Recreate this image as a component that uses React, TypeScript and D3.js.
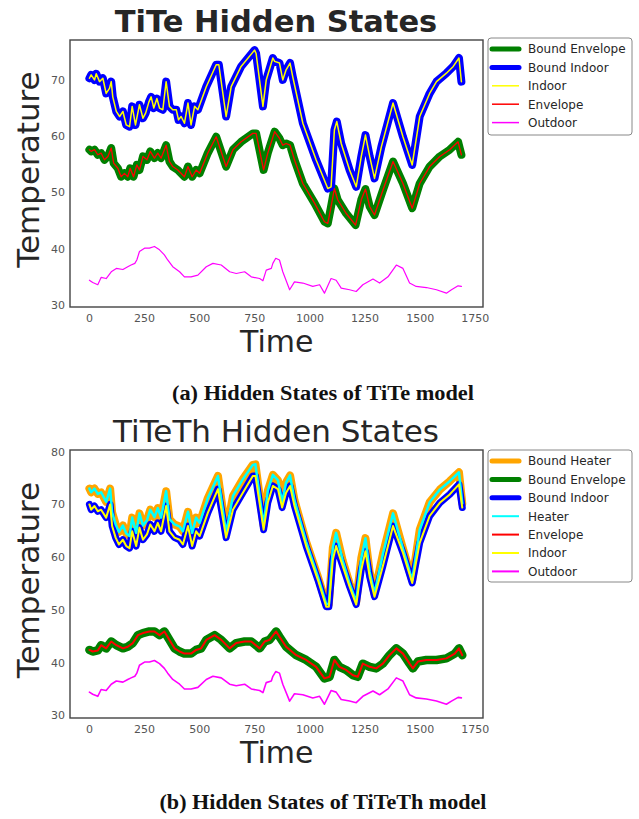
import * as d3 from 'd3';

type Pt = [number, number];

// time ticks shared by both panels
const timeTicks = [0, 250, 500, 750, 1000, 1250, 1500, 1750];
const tempTicksA = [30, 40, 50, 60, 70];
const tempTicksB = [30, 40, 50, 60, 70, 80];

// outdoor temperature (same in both models)
const outdoor: Pt[] = [
  [0, 34.4], [15, 34.0], [38, 33.6], [53, 34.9], [76, 34.7], [99, 35.9], [122, 36.5], [152, 36.3],
  [174, 36.8], [189, 37.1], [206, 37.4], [215, 38.0], [227, 39.5], [250, 40.1], [272, 40.1], [295, 40.4],
  [318, 39.8], [340, 38.9], [355, 38.0], [378, 36.8], [409, 35.9], [431, 35.0], [461, 35.0], [492, 35.3],
  [530, 36.8], [560, 37.4], [598, 37.1], [636, 35.9], [666, 35.6], [704, 35.9], [734, 35.0], [772, 34.7],
  [787, 34.3], [802, 36.2], [825, 36.5], [832, 37.4], [845, 38.3], [862, 38.0], [877, 35.9], [908, 32.7],
  [930, 34.1], [968, 33.9], [1013, 33.3], [1044, 33.6], [1066, 32.1], [1096, 34.7], [1119, 34.4], [1142, 33.0],
  [1180, 32.7], [1210, 32.4], [1240, 33.6], [1286, 34.6], [1316, 33.9], [1354, 35.0], [1392, 37.1], [1422, 36.5],
  [1452, 33.9], [1482, 33.3], [1528, 33.1], [1574, 32.7], [1619, 32.1], [1642, 32.7], [1672, 33.4], [1687, 33.3],
];

// TiTe model
const indoorA: Pt[] = [
  [0, 70.3], [8, 70.9], [23, 70.0], [31, 71.1], [46, 69.7], [61, 70.3], [76, 67.6], [91, 68.5],
  [99, 69.7], [106, 67.0], [122, 64.4], [137, 63.5], [152, 64.4], [167, 62.0], [182, 61.7], [194, 65.3],
  [209, 62.0], [227, 65.6], [243, 63.2], [255, 64.1], [270, 66.1], [280, 67.0], [292, 65.0], [306, 66.7],
  [318, 65.0], [333, 64.7], [348, 69.7], [363, 65.3], [378, 64.7], [394, 64.7], [404, 62.9], [416, 63.5],
  [431, 62.3], [447, 65.9], [461, 62.0], [477, 65.3], [492, 64.7], [530, 68.8], [575, 72.7], [587, 72.7],
  [620, 63.5], [643, 68.8], [688, 72.4], [749, 75.3], [756, 74.7], [787, 65.3], [802, 70.0], [832, 73.9],
  [840, 73.3], [862, 73.0], [877, 70.0], [892, 71.8], [910, 73.0], [922, 70.6], [968, 62.3], [1028, 55.8],
  [1081, 50.7], [1096, 51.0], [1111, 61.1], [1122, 62.6], [1142, 58.7], [1180, 54.0], [1210, 51.0], [1233, 56.4],
  [1252, 60.2], [1271, 56.4], [1293, 52.5], [1324, 58.1], [1377, 65.9], [1422, 59.9], [1464, 54.9], [1498, 63.5],
  [1543, 67.6], [1574, 69.7], [1619, 71.2], [1650, 72.4], [1676, 73.9], [1687, 69.7],
];

const envelopeA: Pt[] = [
  [0, 57.6], [8, 57.3], [23, 57.6], [38, 56.7], [53, 57.0], [68, 55.8], [84, 56.4], [99, 57.9],
  [110, 55.2], [129, 54.3], [144, 52.8], [159, 53.4], [174, 52.8], [185, 54.3], [200, 52.8], [215, 54.9],
  [227, 54.0], [243, 56.4], [261, 55.8], [276, 57.3], [295, 56.1], [310, 57.0], [325, 56.1], [348, 58.4],
  [363, 55.5], [378, 54.6], [401, 54.0], [431, 52.8], [447, 54.6], [466, 52.8], [484, 54.0], [500, 53.4],
  [537, 57.0], [575, 59.9], [620, 54.6], [651, 57.6], [688, 59.0], [741, 60.5], [756, 60.5], [790, 54.0],
  [809, 57.0], [840, 60.8], [862, 59.6], [877, 58.4], [892, 58.7], [910, 58.4], [930, 55.8], [968, 51.6],
  [1021, 48.1], [1066, 44.8], [1081, 44.5], [1096, 47.5], [1111, 50.7], [1126, 48.7], [1164, 46.3], [1207, 44.2],
  [1233, 48.7], [1252, 50.6], [1271, 47.5], [1293, 46.0], [1331, 50.4], [1377, 55.5], [1422, 51.6], [1464, 47.2],
  [1498, 51.6], [1543, 54.6], [1589, 56.4], [1634, 57.6], [1672, 59.0], [1687, 56.7],
];

// TiTeTh model
const indoorB: Pt[] = [
  [0, 70.0], [8, 69.0], [23, 69.7], [38, 68.7], [53, 69.0], [76, 67.5], [94, 70.0], [103, 65.9],
  [119, 63.7], [134, 62.4], [152, 63.3], [167, 62.1], [182, 61.7], [194, 64.9], [212, 62.1], [227, 65.6],
  [243, 63.3], [261, 64.3], [276, 66.2], [295, 64.9], [310, 66.5], [325, 64.9], [348, 69.7], [363, 64.9],
  [386, 63.7], [409, 63.3], [424, 62.4], [447, 65.9], [466, 62.1], [484, 64.9], [500, 64.0], [537, 68.4],
  [583, 72.9], [620, 63.7], [651, 69.0], [696, 72.2], [741, 75.4], [753, 75.4], [790, 65.2], [809, 70.3],
  [832, 73.5], [855, 72.9], [874, 69.4], [892, 72.2], [910, 73.5], [930, 69.7], [983, 62.1], [1036, 55.7],
  [1074, 50.6], [1086, 50.6], [1104, 59.5], [1119, 62.1], [1149, 58.3], [1180, 54.4], [1210, 51.0], [1233, 57.6],
  [1252, 61.1], [1271, 56.3], [1293, 52.5], [1331, 58.3], [1377, 65.9], [1422, 60.8], [1464, 55.1], [1498, 62.7],
  [1543, 67.8], [1589, 70.3], [1634, 71.9], [1676, 73.8], [1691, 69.4],
];

const heaterB: Pt[] = [
  [0, 73.0], [8, 72.3], [23, 73.0], [38, 72.0], [53, 72.3], [76, 70.5], [94, 73.0], [103, 68.5],
  [119, 66.2], [134, 64.8], [152, 66.0], [167, 64.5], [182, 64.0], [194, 67.5], [212, 64.6], [227, 68.3],
  [243, 66.0], [261, 67.0], [276, 69.0], [295, 67.6], [310, 69.3], [325, 67.5], [348, 72.5], [363, 67.2],
  [386, 66.2], [409, 65.8], [424, 64.9], [447, 68.6], [466, 64.6], [484, 67.5], [500, 66.5], [537, 71.2],
  [583, 75.4], [620, 64.6], [651, 71.6], [696, 74.8], [741, 77.5], [753, 77.6], [790, 66.0], [809, 72.6],
  [832, 75.6], [855, 74.6], [874, 70.4], [892, 74.2], [910, 75.5], [930, 70.8], [983, 62.9], [1036, 56.3],
  [1074, 51.1], [1086, 51.1], [1104, 61.8], [1119, 64.6], [1149, 59.3], [1180, 55.0], [1210, 51.5], [1233, 59.8],
  [1252, 63.6], [1271, 57.2], [1293, 53.1], [1331, 60.6], [1377, 68.3], [1422, 61.6], [1464, 55.6], [1498, 65.2],
  [1543, 70.4], [1589, 72.8], [1634, 74.4], [1676, 76.1], [1691, 70.2],
];

const envelopeB: Pt[] = [
  [0, 42.4], [15, 42.1], [38, 42.3], [53, 43.3], [76, 42.7], [99, 44.0], [122, 43.3], [152, 42.7],
  [174, 43.0], [197, 43.7], [220, 45.2], [243, 45.6], [272, 45.9], [295, 45.9], [318, 45.2], [340, 45.9],
  [363, 44.3], [386, 42.7], [409, 42.1], [431, 41.7], [461, 41.7], [484, 42.4], [507, 42.7], [530, 44.3],
  [568, 45.2], [598, 44.3], [636, 42.7], [666, 43.7], [704, 44.0], [734, 44.0], [772, 42.7], [795, 44.0],
  [817, 44.3], [847, 45.9], [862, 44.9], [892, 43.0], [938, 41.4], [983, 40.5], [1028, 39.2], [1066, 37.0],
  [1089, 37.3], [1111, 40.5], [1134, 39.2], [1164, 38.6], [1195, 37.6], [1217, 37.3], [1240, 39.8], [1271, 39.2],
  [1301, 38.9], [1331, 39.8], [1361, 41.4], [1392, 42.7], [1422, 41.7], [1452, 39.8], [1467, 38.9], [1490, 40.2],
  [1528, 40.5], [1574, 40.5], [1619, 40.8], [1657, 41.7], [1676, 42.7], [1691, 41.4],
];

type Series = { label: string; data: Pt[]; color: string; width: number; legendWidth: number };

const seriesA: Series[] = [
  { label: 'Bound Envelope', data: envelopeA, color: 'green', width: 8, legendWidth: 5 },
  { label: 'Bound Indoor', data: indoorA, color: 'blue', width: 8, legendWidth: 5 },
  { label: 'Indoor', data: indoorA, color: 'yellow', width: 1.5, legendWidth: 1.5 },
  { label: 'Envelope', data: envelopeA, color: 'red', width: 1.3, legendWidth: 1.5 },
  { label: 'Outdoor', data: outdoor, color: 'magenta', width: 1.2, legendWidth: 1.5 },
];

const seriesB: Series[] = [
  { label: 'Bound Heater', data: heaterB, color: 'orange', width: 8, legendWidth: 5 },
  { label: 'Bound Envelope', data: envelopeB, color: 'green', width: 8.5, legendWidth: 5 },
  { label: 'Bound Indoor', data: indoorB, color: 'blue', width: 7, legendWidth: 5 },
  { label: 'Heater', data: heaterB, color: 'cyan', width: 2.5, legendWidth: 2 },
  { label: 'Envelope', data: envelopeB, color: 'red', width: 2, legendWidth: 2 },
  { label: 'Indoor', data: indoorB, color: 'yellow', width: 2, legendWidth: 2 },
  { label: 'Outdoor', data: outdoor, color: 'magenta', width: 1.6, legendWidth: 2 },
];

const FONT = 'DejaVu Sans, sans-serif';
const TEXT = '#262626';
const TICK = '#555';

function Panel({ top, bottom, yDomain, yTicks, title, bold, series, legendTop, legendBottom }: {
  top: number; bottom: number; yDomain: [number, number]; yTicks: number[]; title: string; bold: boolean;
  series: Series[]; legendTop: number; legendBottom: number;
}) {
  const left = 70;
  const right = 483;
  const x = d3.scaleLinear().domain([-88, 1785]).range([left, right]);
  const y = d3.scaleLinear().domain(yDomain).range([bottom, top]);
  const line = d3.line<Pt>().x((d) => x(d[0])).y((d) => y(d[1]));

  return (
    <g>
      <text x={276} y={top - 8} textAnchor="middle" fontFamily={FONT} fontSize={bold ? 30.5 : 31}
        fontWeight={bold ? 'bold' : 'normal'} fill={TEXT}>{title}</text>
      <defs>
        <clipPath id={`clip${top}`}>
          <rect x={left} y={top} width={right - left} height={bottom - top} />
        </clipPath>
      </defs>
      <g clipPath={`url(#clip${top})`}>
        {series.map((s, i) => (
          <path key={i} d={line(s.data) ?? ''} fill="none" stroke={s.color} strokeWidth={s.width}
            strokeLinejoin="round" strokeLinecap="round" />
        ))}
      </g>
      <rect x={left} y={top} width={right - left} height={bottom - top} fill="none" stroke="#444" strokeWidth={1.4} />
      {timeTicks.map((t) => (
        <text key={t} x={x(t)} y={bottom + 15} textAnchor="middle" fontFamily={FONT} fontSize={11} fill={TICK}>{t}</text>
      ))}
      {yTicks.map((v) => (
        <text key={v} x={65} y={y(v) + 4} textAnchor="end" fontFamily={FONT} fontSize={11} fill={TICK}>{v}</text>
      ))}
      <text x={x(850)} y={bottom + 45} textAnchor="middle" fontFamily={FONT} fontSize={30} fill={TEXT}>Time</text>
      <text transform={`translate(39,${(top + bottom) / 2 - 4}) rotate(-90)`} textAnchor="middle" fontFamily={FONT}
        fontSize={31} fill={TEXT}>Temperature</text>
      <rect x={488} y={legendTop} width={144} height={legendBottom - legendTop} rx={3} fill="white"
        stroke="#888" strokeWidth={1} />
      {series.map((s, i) => {
        const ly = legendTop + 11 + i * 18.4;
        return (
          <g key={i}>
            <line x1={492} x2={519} y1={ly} y2={ly} stroke={s.color} strokeWidth={s.legendWidth}
              strokeLinecap={s.legendWidth > 3 ? 'round' : 'butt'} />
            <text x={528} y={ly + 4.3} fontFamily={FONT} fontSize={12} fill={TEXT}>{s.label}</text>
          </g>
        );
      })}
    </g>
  );
}

export default function App() {
  return (
    <svg width={639} height={819} style={{ position: 'absolute', left: 0, top: 0, background: 'white' }}>
      <Panel top={40} bottom={307} yDomain={[29.64, 77.1]} yTicks={tempTicksA} title="TiTe Hidden States" bold
        series={seriesA} legendTop={38} legendBottom={135} />
      <text x={323} y={400} textAnchor="middle" fontFamily="Liberation Serif, serif" fontWeight="bold" fontSize={20}
        textLength={302} lengthAdjust="spacingAndGlyphs" fill="#111">(a) Hidden States of TiTe model</text>
      <Panel top={450} bottom={718} yDomain={[29.49, 80.32]} yTicks={tempTicksB} title="TiTeTh Hidden States"
        bold={false} series={seriesB} legendTop={450} legendBottom={582} />
      <text x={323} y={809} textAnchor="middle" fontFamily="Liberation Serif, serif" fontWeight="bold" fontSize={20}
        textLength={327} lengthAdjust="spacingAndGlyphs" fill="#111">(b) Hidden States of TiTeTh model</text>
    </svg>
  );
}
